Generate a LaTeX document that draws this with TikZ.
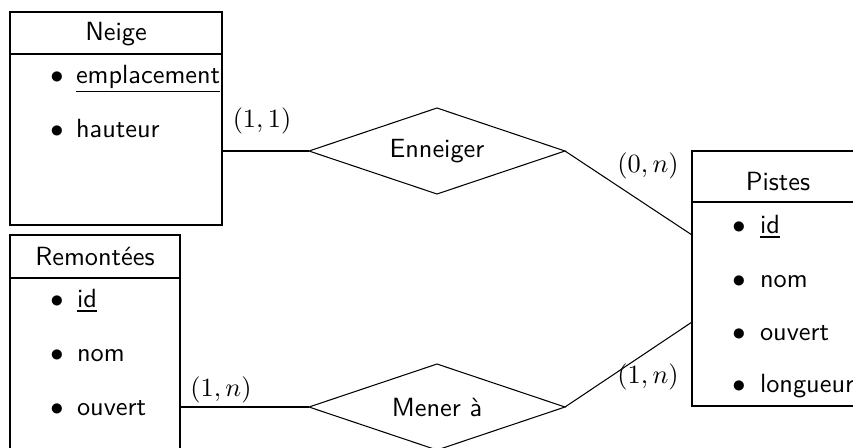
\documentclass[tikz,border=0pt]{standalone}
\usepackage{fontspec}
\usetikzlibrary{shapes.geometric}
\begin{document}
\begin{tikzpicture}[x=0.38pt,y=-0.38pt,
  every node/.style={inner sep=0pt, outer sep=0pt},
  txt/.style={font=\sffamily, anchor=base},
  item/.style={font=\sffamily, anchor=base west},
  entbox/.style={draw, line width=0.4pt},
  rel/.style={draw, shape=diamond, shape aspect=3, line width=0.4pt, font=\sffamily},
  card/.style={}]
\useasboundingbox (0,0) rectangle (853,447);
\clip (0,0) rectangle (853,447);

% Entities
\node[entbox, minimum width=80.56pt, minimum height=80.94pt] (neige) at (116,118.5) {};
\draw (neige.west |- 0,54) -- (neige.east |- 0,54);
\node[txt] (tneige) at (116,40) {Neige};
\node[txt] (bn1) at (57,83) {$\bullet$};
\node[item] (n1) at (76,83) {\underline{emplacement}};
\node[txt] (bn2) at (57,137) {$\bullet$};
\node[item] (n2) at (76,137) {hauteur};

\node[entbox, minimum width=64.6pt, minimum height=89.3pt] (rem) at (95,352.5) {};
\draw (rem.west |- 0,278) -- (rem.east |- 0,278);
\node[txt] (trem) at (95,265) {Remontées};
\node[txt] (br1) at (57,307) {$\bullet$};
\node[item] (r1) at (77,307) {\underline{id}};
\node[txt] (br2) at (57,361) {$\bullet$};
\node[item] (r2) at (77,361) {nom};
\node[txt] (br3) at (57,415) {$\bullet$};
\node[item] (r3) at (77,415) {ouvert};

\node[entbox, minimum width=65.36pt, minimum height=96.9pt] (pistes) at (778,278.5) {};
\draw (pistes.west |- 0,202) -- (pistes.east |- 0,202);
\node[txt] (tpistes) at (778,190) {Pistes};
\node[txt] (bp1) at (739,233) {$\bullet$};
\node[item] (p1) at (760,233) {\underline{id}};
\node[txt] (bp2) at (739,287) {$\bullet$};
\node[item] (p2) at (760,287) {nom};
\node[txt] (bp3) at (739,340) {$\bullet$};
\node[item] (p3) at (760,340) {ouvert};
\node[txt] (bp4) at (739,392) {$\bullet$};
\node[item] (p4) at (760,392) {longueur};

% Relations
\node[rel, minimum width=97.28pt, minimum height=32.68pt] (enn) at (437,151) {Enneiger};
\node[rel, minimum width=97.28pt, minimum height=32.68pt] (men) at (437,407) {Mener à};

\coordinate (pa) at (692,235);
\coordinate (pb) at (692,322);

\draw (neige.east |- enn.west) -- (enn.west);
\draw (enn.east) -- (pa);
\draw (rem.east |- men.west) -- (men.west);
\draw (men.east) -- (pb);

% Cardinalities
\node[card] (c1) at (262,121) {$(1,1)$};
\node[card] (c2) at (648,166) {$(0,n)$};
\node[card] (c3) at (221,390) {$(1,n)$};
\node[card] (c4) at (648,377) {$(1,n)$};
\end{tikzpicture}
\end{document}
